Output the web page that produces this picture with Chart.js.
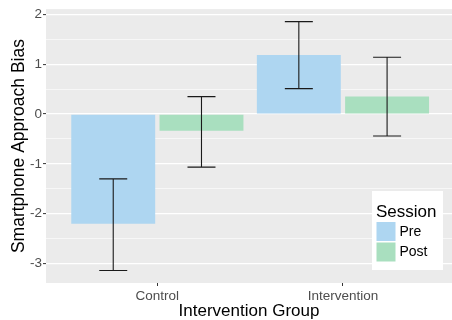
<!DOCTYPE html>
<html>
<head>
<meta charset="utf-8">
<script src="https://cdn.jsdelivr.net/npm/chart.js@4/dist/chart.umd.min.js"></script>
<style>
  html, body { margin: 0; padding: 0; background: #ffffff; }
  #wrap { width: 452px; height: 320px; position: relative; }
</style>
</head>
<body>
<div id="wrap"><canvas id="c"></canvas></div>
<script>
const categories = ['Control', 'Intervention'];
const categoryPositions = [1, 2];
const sessions = ['Pre', 'Post'];
const preMeans = [-2.2, 1.185];
const postMeans = [-0.335, 0.355];
const preLower = [-3.14, 0.51];
const preUpper = [-1.30, 1.855];
const postLower = [-1.065, -0.44];
const postUpper = [0.35, 1.14];
const yTickValues = [-3, -2, -1, 0, 1, 2];
const yMinorValues = [-2.5, -1.5, -0.5, 0.5, 1.5];

const preColor = '#AED6F1';
const postColor = '#A9DFBF';

const panelBg = {
  id: 'panelBg',
  beforeDraw(chart) {
    const { ctx, chartArea: a } = chart;
    ctx.save();
    ctx.fillStyle = '#EBEBEB';
    ctx.fillRect(a.left, a.top, a.right - a.left, a.bottom - a.top);
    ctx.restore();
  }
};

const errorBars = {
  id: 'errorBars',
  afterDatasetsDraw(chart) {
    const { ctx } = chart;
    const y = chart.scales.y;
    ctx.save();
    ctx.strokeStyle = '#1a1a1a';
    ctx.lineWidth = 1.1;
    chart.data.datasets.forEach((ds, d) => {
      const meta = chart.getDatasetMeta(d);
      meta.data.forEach((bar, i) => {
        const x = bar.x;
        const yl = y.getPixelForValue(ds.errLow[i]);
        const yh = y.getPixelForValue(ds.errHigh[i]);
        const hw = 14;
        ctx.beginPath();
        ctx.moveTo(x, yl); ctx.lineTo(x, yh);
        ctx.moveTo(x - hw, yl); ctx.lineTo(x + hw, yl);
        ctx.moveTo(x - hw, yh); ctx.lineTo(x + hw, yh);
        ctx.stroke();
      });
    });
    ctx.restore();
  }
};

const insideLegend = {
  id: 'insideLegend',
  afterDraw(chart) {
    const { ctx } = chart;
    ctx.save();
    ctx.fillStyle = '#ffffff';
    ctx.fillRect(372, 191, 71, 79);
    ctx.fillStyle = '#000000';
    ctx.font = '17px "Liberation Sans", Arial, sans-serif';
    ctx.textBaseline = 'alphabetic';
    ctx.textAlign = 'left';
    ctx.fillText('Session', 376, 216.5);
    chart.data.datasets.forEach((ds, d) => {
      const top = 222 + d * 20.5;
      ctx.fillStyle = ds.backgroundColor;
      ctx.fillRect(376.5, top, 19, 19);
      ctx.fillStyle = '#000000';
      ctx.font = '14px "Liberation Sans", Arial, sans-serif';
      ctx.textBaseline = 'middle';
      ctx.fillText(ds.label, 399.5, top + 9.8);
    });
    ctx.restore();
  }
};

const fontFam = '"Liberation Sans", Arial, sans-serif';

new Chart(document.getElementById('c'), {
  type: 'bar',
  data: {
    datasets: [
      {
        label: sessions[0],
        data: categoryPositions.map((x, i) => ({ x: x, y: preMeans[i] })),
        backgroundColor: preColor,
        errLow: preLower,
        errHigh: preUpper
      },
      {
        label: sessions[1],
        data: categoryPositions.map((x, i) => ({ x: x, y: postMeans[i] })),
        backgroundColor: postColor,
        errLow: postLower,
        errHigh: postUpper
      }
    ]
  },
  options: {
    responsive: true,
    maintainAspectRatio: false,
    animation: false,
    categoryPercentage: 0.951,
    barPercentage: 0.951,
    layout: { padding: { top: 9, left: 0, right: 0, bottom: 0 } },
    plugins: {
      legend: { display: false },
      tooltip: { enabled: false }
    },
    scales: {
      x: {
        type: 'linear',
        min: 0.4,
        max: 2.5875,
        offset: false,
        border: { display: false },
        grid: {
          offset: false,
          drawOnChartArea: false,
          tickLength: 3,
          tickColor: '#333333',
          tickWidth: 1
        },
        afterBuildTicks(scale) {
          scale.ticks = categoryPositions.map(v => ({ value: v }));
        },
        ticks: {
          autoSkip: false,
          maxRotation: 0,
          padding: 2,
          color: '#4D4D4D',
          font: { family: fontFam, size: 13.5 },
          callback(value, index) {
            return categories[index];
          }
        },
        title: {
          display: true,
          text: 'Intervention Group',
          color: '#000000',
          font: { family: fontFam, size: 17, lineHeight: 1.0 },
          padding: { top: 0, bottom: 0 }
        },
        afterFit(scale) { scale.height = 37; }
      },
      y: {
        min: -3.39,
        max: 2.107,
        border: { display: false },
        afterBuildTicks(scale) {
          scale.ticks = [...yMinorValues, ...yTickValues]
            .sort((a, b) => a - b)
            .map(v => ({ value: v }));
        },
        grid: {
          color: '#ffffff',
          lineWidth(ctx) {
            return ctx.tick && Number.isInteger(ctx.tick.value) ? 1.2 : 0.6;
          },
          tickLength: 3,
          tickWidth: 1,
          tickColor(ctx) {
            return ctx.tick && Number.isInteger(ctx.tick.value) ? '#333333' : 'rgba(0,0,0,0)';
          }
        },
        ticks: {
          padding: 1,
          color: '#4D4D4D',
          font: { family: fontFam, size: 13.5 },
          callback(value) {
            return yTickValues.includes(value) ? String(value) : '';
          }
        },
        title: {
          display: true,
          text: 'Smartphone Approach Bias',
          color: '#000000',
          font: { family: fontFam, size: 17.5, lineHeight: 1.2 },
          padding: { top: 9, bottom: 0 }
        },
        afterFit(scale) { scale.height = undefined; scale.width = 46; }
      }
    }
  },
  plugins: [panelBg, errorBars, insideLegend]
});
</script>
</body>
</html>
